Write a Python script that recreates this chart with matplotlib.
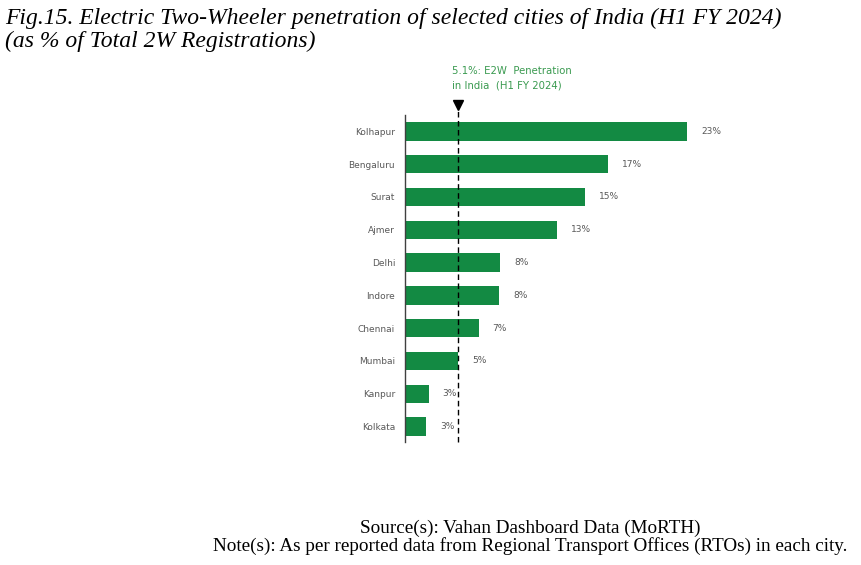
import matplotlib.pyplot as plt
import matplotlib.transforms as mtransforms

cities = ['Kolhapur', 'Bengaluru', 'Surat', 'Ajmer', 'Delhi',
          'Indore', 'Chennai', 'Mumbai', 'Kanpur', 'Kolkata']
penetration = [23.0, 16.8, 15.0, 12.8, 8.4, 8.3, 6.7, 5.1, 2.8, 2.6]
value_labels = ['23%', '17%', '15%', '13%', '8%', '8%', '7%', '5%', '3%', '3%']
india_avg = 5.1
india_label = '5.1%: E2W  Penetration\nin India  (H1 FY 2024)'

title = ('Fig.15. Electric Two-Wheeler penetration of selected cities of India (H1 FY 2024)\n'
         '(as % of Total 2W Registrations)')
source = ('Source(s): Vahan Dashboard Data (MoRTH)\n'
          'Note(s): As per reported data from Regional Transport Offices (RTOs) in each city.')

bar_color = '#138a43'
text_gray = '#595959'

fig = plt.figure(figsize=(8.62, 5.65), dpi=100)
ax = fig.add_axes([0.4698, 0.2177, 0.357, 0.5788])

y = range(len(cities))
ax.barh(y, penetration, height=0.56, color=bar_color)
ax.set_ylim(len(cities) - 0.53, -0.5)
ax.set_xlim(0.93, 25)

for i, (v, lab) in enumerate(zip(penetration, value_labels)):
    ax.annotate(lab, (v, i), xytext=(10, 0), textcoords='offset points',
                va='center', ha='left', fontsize=6.5, color=text_gray,
                annotation_clip=False)

ax.set_yticks(list(y))
ax.set_yticklabels(cities, fontsize=6.5, color=text_gray)
ax.tick_params(axis='y', length=0, pad=7)
ax.set_xticks([])
for s in ['top', 'right', 'bottom']:
    ax.spines[s].set_visible(False)
ax.spines['left'].set_color('#404040')
ax.spines['left'].set_linewidth(1.0)

# national average reference line
ax.axvline(india_avg, ymin=0, ymax=1.015, color='black', ls=(0, (4, 2.5)),
           lw=1.0, clip_on=False)
trans = mtransforms.blended_transform_factory(ax.transData, ax.transAxes)
ax.plot([india_avg], [1.03], marker='v', color='black', markersize=7,
        transform=trans, clip_on=False)
ax.text(4.6, 1.112, india_label, transform=trans, ha='left', va='center',
        fontsize=7.3, color='#3a9a50', linespacing=1.5)

fig.text(0.006, 0.987, title, ha='left', va='top', fontsize=17,
         family='Liberation Serif', style='italic', linespacing=1.14)
fig.text(0.615, 0.081, source, ha='center', va='top', fontsize=13.8,
         family='Liberation Serif', linespacing=1.04)

fig.savefig('out.png', dpi=100)
